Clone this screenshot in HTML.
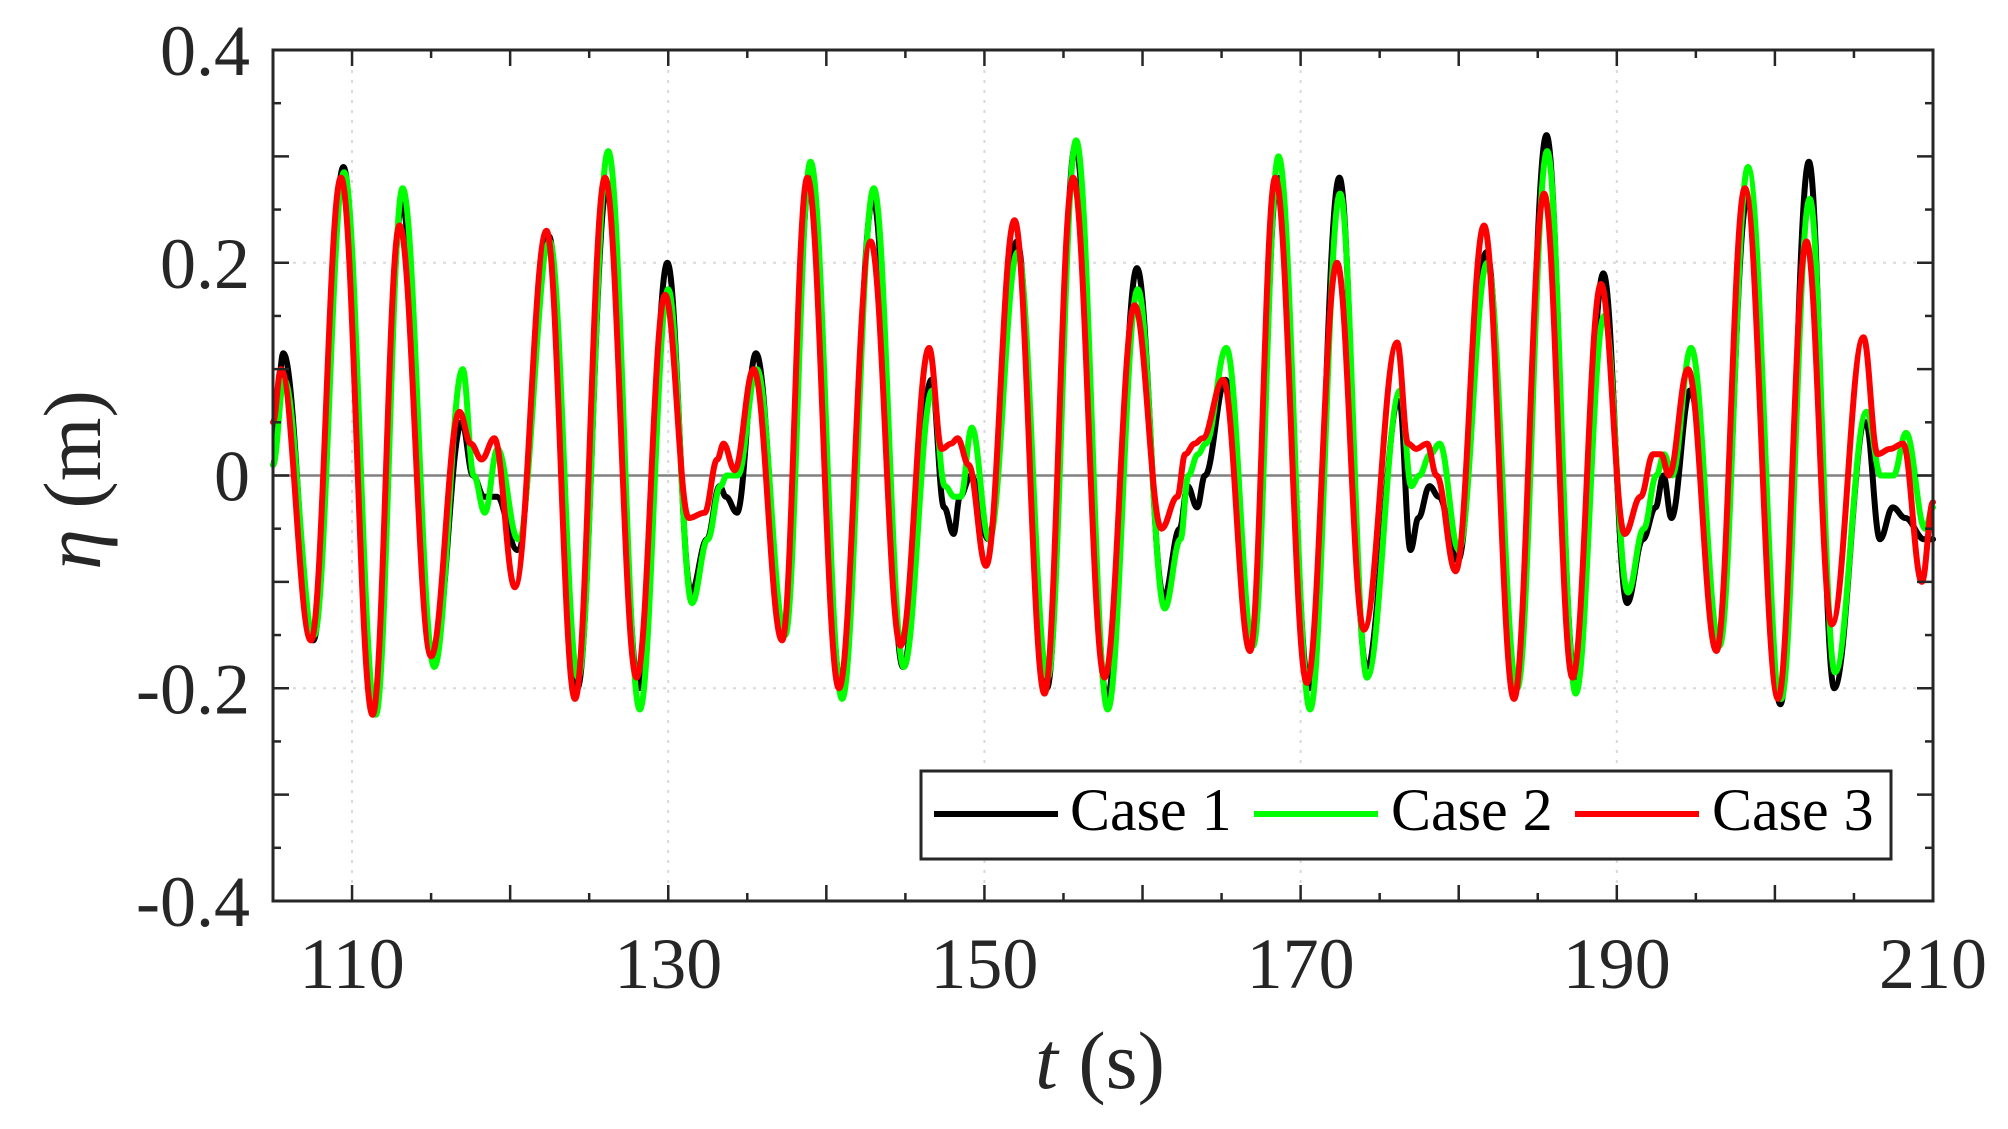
<!DOCTYPE html>
<html><head><meta charset="utf-8"><style>
html,body{margin:0;padding:0;background:#fff;}
svg{display:block;}
</style></head><body>
<svg id="s" width="2008" height="1129" viewBox="0 0 2008 1129" xmlns="http://www.w3.org/2000/svg" font-family="'Liberation Serif', serif" fill="#262626">
<rect x="0" y="0" width="2008" height="1129" fill="#fff"/>
<g id="grid" stroke="#d9d9d9" stroke-width="2" stroke-dasharray="3,7"></g>
<line x1="273" y1="475.5" x2="1933" y2="475.5" stroke="#808080" stroke-width="2.5"/>
<g id="series" fill="none" stroke-width="6" stroke-linejoin="round" stroke-linecap="round"></g>
<g id="ticks" stroke="#262626" stroke-width="2.5"></g>
<rect x="273" y="50" width="1660" height="851" fill="none" stroke="#262626" stroke-width="3"/>
<g id="labels" font-size="72" font-family="'Liberation Serif', serif" fill="#262626"></g>
<text x="1100" y="1088" font-size="82" text-anchor="middle" font-family="'Liberation Serif', serif" fill="#262626"><tspan font-style="italic">t</tspan> (s)</text>
<text transform="translate(100,480) rotate(-90)" font-size="82" text-anchor="middle" font-family="'Liberation Serif', serif" fill="#262626"><tspan font-style="italic">η</tspan> (m)</text>
<rect x="921" y="771" width="970" height="88" fill="#fff" stroke="#262626" stroke-width="3"/>
<line x1="934" y1="814" x2="1058" y2="814" stroke="#000" stroke-width="6"/>
<text x="1070" y="830" font-size="60" font-family="'Liberation Serif', serif" fill="#000">Case 1</text>
<line x1="1254" y1="814" x2="1378" y2="814" stroke="#00ff00" stroke-width="6"/>
<text x="1391" y="830" font-size="60" font-family="'Liberation Serif', serif" fill="#000">Case 2</text>
<line x1="1575" y1="814" x2="1699" y2="814" stroke="#ff0000" stroke-width="6"/>
<text x="1712" y="830" font-size="60" font-family="'Liberation Serif', serif" fill="#000">Case 3</text>
</svg>
<script>
const NS="http://www.w3.org/2000/svg";
const X0=273,X1=1933,Y0=50,Y1=901;
const tx=t=>X0+(t-105)/105*(X1-X0);
const ty=v=>Y0+(0.4-v)/0.8*(Y1-Y0);
function el(p,n,a){const e=document.createElementNS(NS,n);for(const k in a)e.setAttribute(k,a[k]);p.appendChild(e);return e;}
const grid=document.getElementById('grid'),ticks=document.getElementById('ticks'),labels=document.getElementById('labels');
for(let t=110;t<=190;t+=20){el(grid,'line',{x1:tx(t),y1:Y0,x2:tx(t),y2:Y1});}
for(const v of [0.2,-0.2]){el(grid,'line',{x1:X0,y1:ty(v),x2:X1,y2:ty(v)});}
for(let t=105;t<=210;t+=5){const x=tx(t);const L=(t%10==0)?16:8;
 el(ticks,'line',{x1:x,y1:Y0,x2:x,y2:Y0+L});el(ticks,'line',{x1:x,y1:Y1,x2:x,y2:Y1-L});}
for(let i=-8;i<=8;i++){const v=i*0.05,y=ty(v);const L=(i%2==0)?16:8;
 el(ticks,'line',{x1:X0,y1:y,x2:X0+L,y2:y});el(ticks,'line',{x1:X1,y1:y,x2:X1-L,y2:y});}
for(let t=110;t<=210;t+=20){const e=el(labels,'text',{x:tx(t),y:988,'text-anchor':'middle'});e.textContent=t;}
for(const [v,s] of [[0.4,'0.4'],[0.2,'0.2'],[0,'0'],[-0.2,'-0.2'],[-0.4,'-0.4']]){const e=el(labels,'text',{x:250,y:ty(v)+25,'text-anchor':'end'});e.textContent=s;}
const D=[
[105.0,0.05,0.01,0.01],[105.5,0.1,0.09,0.115],[107.4,-0.155,-0.15,-0.155],[109.3,0.28,0.285,0.29],[111.3,-0.225,-0.225,-0.22],
[113.0,0.235,0.27,0.255],[115.0,-0.17,-0.18,-0.175],[116.8,0.06,0.1,0.05],[117.5,0.03,0.0,0.0],[118.2,0.015,-0.035,-0.02],
[119.0,0.035,0.025,-0.02],[120.3,-0.105,-0.06,-0.07],[122.3,0.23,0.22,0.225],[124.1,-0.21,-0.19,-0.2],[126.0,0.28,0.305,0.275],
[128.0,-0.19,-0.22,-0.2],[129.8,0.17,0.175,0.2],[131.3,-0.04,-0.12,-0.11],[132.3,-0.035,-0.06,-0.06],[133.1,0.015,-0.01,-0.01],
[133.5,0.03,0.0,-0.02],[134.2,0.005,0.0,-0.035],[135.4,0.1,0.1,0.115],[137.2,-0.155,-0.15,-0.15],[138.8,0.28,0.295,0.28],
[140.8,-0.2,-0.21,-0.2],[142.8,0.22,0.27,0.26],[144.7,-0.16,-0.18,-0.18],[146.5,0.12,0.08,0.09],[147.3,0.025,-0.01,-0.03],
[147.9,0.03,-0.02,-0.055],[148.3,0.035,-0.02,-0.02],[149.0,0.01,0.045,0.0],[150.1,-0.085,-0.06,-0.06],[151.9,0.24,0.21,0.22],
[153.8,-0.205,-0.19,-0.2],[155.6,0.28,0.315,0.31],[157.6,-0.19,-0.22,-0.21],[159.5,0.16,0.175,0.195],[161.2,-0.05,-0.125,-0.115],
[162.2,-0.02,-0.06,-0.05],[162.7,0.02,0.0,-0.01],[163.3,0.03,0.02,-0.03],[163.8,0.035,0.03,0.0],[165.1,0.09,0.12,0.09],
[166.8,-0.165,-0.16,-0.16],[168.4,0.28,0.3,0.28],[170.4,-0.195,-0.22,-0.2],[172.3,0.2,0.265,0.28],[174.0,-0.145,-0.19,-0.18],
[176.1,0.125,0.08,0.07],[176.8,0.03,-0.01,-0.07],[177.3,0.025,0.0,-0.04],[178.0,0.03,0.02,-0.01],[178.6,0.0,0.03,-0.02],
[179.8,-0.09,-0.07,-0.08],[181.6,0.235,0.2,0.21],[183.5,-0.21,-0.2,-0.2],[185.4,0.265,0.305,0.32],[187.2,-0.19,-0.205,-0.19],
[189.0,0.18,0.15,0.19],[190.5,-0.055,-0.11,-0.12],[191.5,-0.02,-0.05,-0.06],[192.3,0.02,0.0,-0.03],[192.8,0.02,0.02,0.0],
[193.3,0.0,0.0,-0.04],[194.5,0.1,0.12,0.08],[196.3,-0.165,-0.16,-0.16],[198.1,0.27,0.29,0.26],[200.2,-0.21,-0.21,-0.215],
[202.0,0.22,0.26,0.295],[203.6,-0.14,-0.185,-0.2],[205.6,0.13,0.06,0.05],[206.5,0.02,0.0,-0.06],[207.3,0.025,0.0,-0.03],
[208.1,0.03,0.04,-0.04],[209.3,-0.1,-0.05,-0.06],[210,-0.025,-0.03,-0.06]];
function path(col,shift){
 const pts=D.map((r,i)=>[tx(Math.min(210,Math.max(105,r[0]+(i>0&&i<D.length-1?shift:0)))),ty(r[col])]);
 let d='M'+pts[0][0].toFixed(1)+','+pts[0][1].toFixed(1);
 for(let i=0;i<pts.length-1;i++){
  const p1=pts[i],p2=pts[i+1];
  const dx=p2[0]-p1[0];
  d+=' C'+(p1[0]+dx/2.6).toFixed(1)+','+p1[1].toFixed(1)+' '+(p2[0]-dx/2.6).toFixed(1)+','+p2[1].toFixed(1)+' '+p2[0].toFixed(1)+','+p2[1].toFixed(1);
 }
 return d;
}
const g=document.getElementById('series');
el(g,'path',{d:path(3,0.15),stroke:'#000000'});
el(g,'path',{d:path(2,0.2),stroke:'#00ff00'});
el(g,'path',{d:path(1,0),stroke:'#ff0000'});
</script>
</body></html>
